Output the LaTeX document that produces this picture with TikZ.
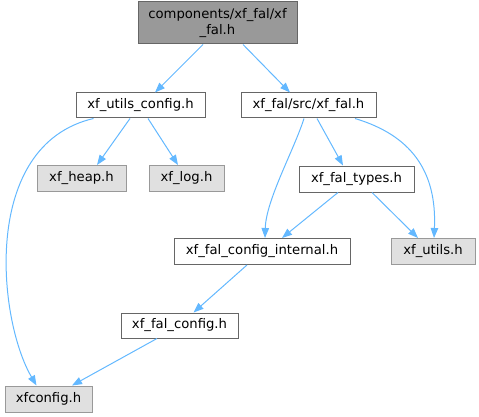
\documentclass[tikz,border=0pt]{standalone}
\usepackage{fontspec}
\setmainfont{DejaVu Sans}
\usetikzlibrary{arrows.meta}

\definecolor{edgeblue}{HTML}{63B8FF}
\definecolor{rootfill}{HTML}{999999}
\definecolor{rootline}{HTML}{666666}
\definecolor{extfill}{HTML}{E0E0E0}
\definecolor{extline}{HTML}{999999}

\tikzset{
  file/.style={draw=rootline, fill=white, line width=1pt, inner sep=0pt,
    minimum height=25pt, font=\fontsize{13.2}{15.5}\selectfont},
  rootfile/.style={file, fill=rootfill, align=center},
  extfile/.style={file, draw=extline, fill=extfill},
  dep/.style={draw=edgeblue, line width=1pt, -{Triangle[length=10pt,width=7.5pt]}}
}

\begin{document}
\begin{tikzpicture}[x=1pt,y=-1pt]
  \useasboundingbox (0,0) rectangle (479,417);

  % Place the file boxes
  \node (root) at (217.5,23) [rootfile, minimum width=159pt, minimum height=42pt] {components/xf\_fal/xf\\\_fal.h};
  \node (uc) at (140.5,105.5) [file, minimum width=129pt] {xf\_utils\_config.h};
  \node (falh) at (308.5,105.5) [file, minimum width=135pt] {xf\_fal/src/xf\_fal.h};
  \node (heap) at (81.5,178.5) [extfile, minimum width=89pt, minimum height=26pt] {xf\_heap.h};
  \node (log) at (186.5,178.5) [extfile, minimum width=75pt, minimum height=26pt] {xf\_log.h};
  \node (types) at (356.5,179) [file, minimum width=115pt, minimum height=26pt] {xf\_fal\_types.h};
  \node (intl) at (262,251.5) [file, minimum width=176pt, minimum height=26pt] {xf\_fal\_config\_internal.h};
  \node (utils) at (433,251.5) [extfile, minimum width=84pt, minimum height=26pt] {xf\_utils.h};
  \node (fc) at (179.5,325.5) [file, minimum width=117pt] {xf\_fal\_config.h};
  \node (xc) at (48.5,399) [extfile, minimum width=87pt, minimum height=26pt] {xfconfig.h};

  % Draw the include edges
  \draw[dep] ([xshift=-14.5pt]root.south) -- ([xshift=14.5pt]uc.north);
  \draw[dep] ([xshift=25.5pt]root.south) -- ([xshift=-18.5pt]falh.north);
  \draw[dep] ([xshift=-10.5pt]uc.south) -- ([xshift=15.5pt]heap.north);
  \draw[dep] ([xshift=7.5pt]uc.south) -- ([xshift=-8.5pt]log.north);
  \draw[dep] ([xshift=-47pt]uc.south) .. controls (-20,145) and (-2,320) .. ([xshift=-12pt]xc.north);
  \draw[dep] ([xshift=-4.5pt]falh.south) .. controls (294,150) and (266,200) .. ([xshift=3pt]intl.north);
  \draw[dep] ([xshift=8.5pt]falh.south) -- ([xshift=-13.5pt]types.north);
  \draw[dep] ([xshift=46.5pt]falh.south) .. controls (410,135) and (437,170) .. ([xshift=1pt]utils.north);
  \draw[dep] ([xshift=-18.5pt]types.south) -- ([xshift=20pt]intl.north);
  \draw[dep] ([xshift=15.5pt]types.south) -- ([xshift=-15pt]utils.north);
  \draw[dep] ([xshift=-15pt]intl.south) -- ([xshift=14pt]fc.north);
  \draw[dep] ([xshift=-22.5pt]fc.south) -- ([xshift=23.5pt]xc.north);
\end{tikzpicture}
\end{document}
